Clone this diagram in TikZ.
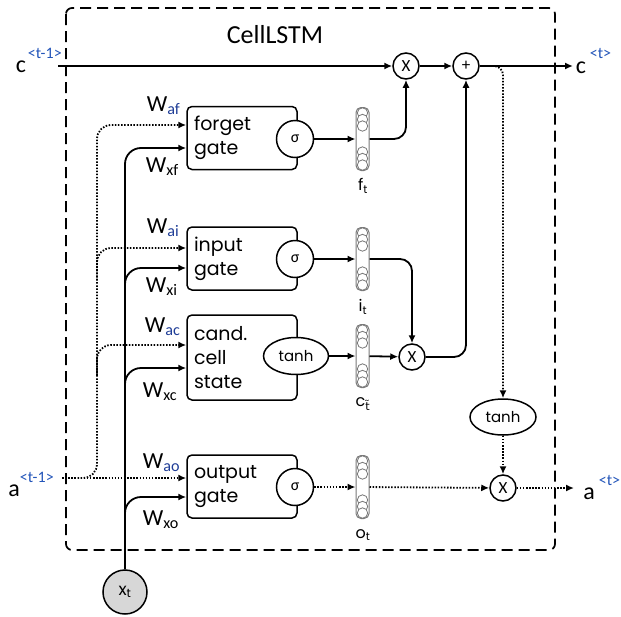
\documentclass[tikz,border=0pt]{standalone}
\usepackage{fontspec}
\setmainfont{Carlito}
\newfontfamily\gfont{Poppins}
\newfontfamily\dvfont{DejaVu Sans}
\usetikzlibrary{arrows.meta,shapes.geometric}
\definecolor{supblue}{RGB}{35,85,185}
\definecolor{subblue}{RGB}{30,60,150}
\definecolor{stackgray}{RGB}{120,120,120}
\definecolor{xtfill}{RGB}{215,215,215}
\newcommand\vstk[3]{%
  \node[vbox] (#1) at (#2,#3) {};
  \foreach \d in {-26,-19.5,-13,13,19.5,26} \draw[vcirc] ({#2},{#3+(\d)}) circle (5.2pt);
}
\begin{document}
\begin{tikzpicture}[x=1pt,y=-1pt,line width=1.8pt,
  arr/.style={-{Latex[length=8pt,width=7pt]}},
  dots/.style={dash pattern=on 1.5pt off 1.6pt},
  gatebox/.style={draw,line width=1.5pt,rounded corners=5pt,minimum width=110pt,text width=96pt,inner sep=0pt,align=left,font=\gfont\fontsize{19}{24}\selectfont},
  sig/.style={circle,draw,fill=white,line width=1.5pt,minimum size=37pt,inner sep=0pt,font=\fontsize{16}{16}\selectfont},
  ell/.style={ellipse,draw,fill=white,line width=1.5pt,minimum width=65pt,minimum height=37pt,inner sep=0pt,font=\gfont\fontsize{15}{15}\selectfont},
  op/.style={circle,draw,fill=white,line width=1.5pt,minimum size=26pt,inner sep=0pt,font=\fontsize{17}{17}\selectfont},
  vbox/.style={draw=stackgray,line width=1pt,rounded corners=5pt,minimum width=13pt,minimum height=63pt,inner sep=0pt},
  vcirc/.style={draw=stackgray,line width=0.8pt,fill=white},
  vlbl/.style={font=\gfont\fontsize{16}{16}\selectfont,inner sep=0pt},
  wl/.style={font=\fontsize{23}{23}\selectfont,inner sep=0pt,anchor=base west},
  big/.style={font=\fontsize{24}{24}\selectfont,inner sep=0pt,anchor=base},
  sup/.style={font=\fontsize{16}{16}\selectfont,text=supblue,inner sep=0pt,anchor=base west}]
\useasboundingbox (0,0) rectangle (621,616);
% border
\draw[line width=1.7pt,dash pattern=on 11pt off 6pt,rounded corners=6pt] (66,8) rectangle (555,550);
\node[font=\fontsize{26}{26}\selectfont,inner sep=0pt,anchor=base] (title) at (275,43) {CellLSTM};
% gates
\node[gatebox,minimum height=63pt] (fg) at (242,138) {forget\\gate};
\node[gatebox,minimum height=63pt] (ig) at (242,258.5) {input\\gate};
\node[gatebox,minimum height=85pt] (cg) at (242,357.5) {cand.\\cell\\state};
\node[gatebox,minimum height=63pt] (og) at (242,486.5) {output\\gate};
\node[sig] (fs) at (295,139) {σ};
\node[sig] (is) at (295,259) {σ};
\node[ell] (ct) at (296,356) {tanh};
\node[sig] (os) at (295,487) {σ};
% stacks
\vstk{fv}{362.5}{139}
\vstk{iv}{362.5}{259}
\vstk{cv}{362.5}{356}
\vstk{ov}{362.5}{487}
\node[vlbl] (fl) at (363,186) {f\textsubscript{t}};
\node[vlbl] (il) at (363,307) {i\textsubscript{t}};
\node[vlbl] (cl) at (363,404) {c\textsubscript{\dvfont\~{t}}};
\node[vlbl] (ol) at (363,535) {o\textsubscript{t}};
% operators
\node[op] (m1) at (406,66) {X};
\node[op] (pl) at (466,66) {+};
\node[op] (m2) at (412,357) {X};
\node[ell,minimum width=66pt,minimum height=36pt] (th) at (503,417) {tanh};
\node[op] (m3) at (503,488) {X};
\node[circle,draw,fill=xtfill,line width=1.5pt,minimum size=44pt,inner sep=0pt,font=\gfont\fontsize{17}{17}\selectfont] (xt) at (125,592) {x\textsubscript{t}};
% end points
\coordinate (cin) at (58,66);
\coordinate (cout) at (573,66);
\coordinate (cb) at (486,66);
\coordinate (ain) at (62,478);
\coordinate (aout) at (574,488);
\coordinate (dtop) at (97,125);
\coordinate (d2) at (97,280);
\coordinate (d3) at (97,375);
\coordinate (s2) at (125,300);
\coordinate (s3) at (125,400);
\coordinate (s4) at (125,530);
% labels
\node[big] (cinl) at (21,72) {c};
\node[sup] (cins) at (27,58) {<t-1>};
\node[big] (coutl) at (581,73) {c};
\node[sup] (couts) at (589,58) {<t>};
\node[big] (ainl) at (14,496) {a};
\node[sup] (ains) at (19,482) {<t-1>};
\node[big] (aoutl) at (589,499) {a};
\node[sup] (aouts) at (598,485) {<t>};
% W labels
\node[wl] (waf) at (146,111) {W\textsubscript{\color{subblue}af}};
\node[wl] (wxf) at (145,172) {W\textsubscript{xf}};
\node[wl] (wai) at (146,233) {W\textsubscript{\color{subblue}ai}};
\node[wl] (wxi) at (145,292) {W\textsubscript{xi}};
\node[wl] (wac) at (144,332) {W\textsubscript{\color{subblue}ac}};
\node[wl] (wxc) at (142,397) {W\textsubscript{xc}};
\node[wl] (wao) at (142,468) {W\textsubscript{\color{subblue}ao}};
\node[wl] (wxo) at (142,525) {W\textsubscript{xo}};
% cell state path
\draw[arr] (cin) -- (m1);
\draw[arr] (m1) -- (pl);
\draw[arr] (pl) -- (cout);
\draw[arr,rounded corners=12pt] (fv.east) -| (m1.south);
\draw[arr,rounded corners=12pt] (iv.east) -| (m2.north);
\draw[arr] (fs) -- (fv);
\draw[arr] (is) -- (iv);
\draw[arr] (ct) -- (cv);
\draw[arr] (cv) -- (m2);
\draw[arr,rounded corners=12pt] (m2.east) -| (pl.south);
% output path
\draw[arr,dots,rounded corners=9pt] (cb) -| (th.north);
\draw[arr,dots] (th) -- (m3);
\draw[arr,dots] (os) -- (ov);
\draw[arr,dots] (ov) -- (m3);
\draw[arr,dots] (m3) -- (aout);
% a<t-1> inputs
\draw[arr,dots] (ain) -- (ain -| og.west);
\draw[arr,dots,rounded corners=14pt] (ain) -| (dtop) -- ([yshift=13pt]fg.west);
\draw[arr,dots,rounded corners=14pt] (d2) |- ([yshift=10.5pt]ig.west);
\draw[arr,dots,rounded corners=14pt] (d3) |- ([yshift=12.5pt]cg.west);
% x_t inputs
\draw[arr,rounded corners=16pt] (xt.north) |- ([yshift=-10pt]fg.west);
\draw[arr,rounded corners=16pt] (s2) |- ([yshift=-9.5pt]ig.west);
\draw[arr,rounded corners=16pt] (s3) |- ([yshift=-10.5pt]cg.west);
\draw[arr,rounded corners=16pt] (s4) |- ([yshift=-10.5pt]og.west);
\end{tikzpicture}
\end{document}
